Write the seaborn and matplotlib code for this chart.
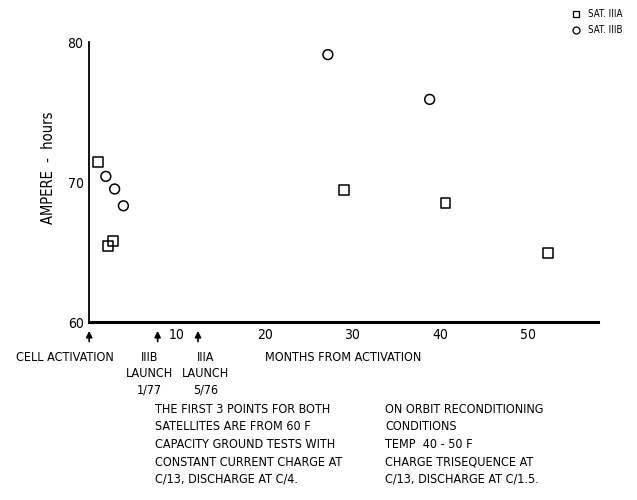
import pandas as pd
import matplotlib
matplotlib.use('Agg')
import matplotlib.pyplot as plt
import seaborn as sns

# satellite IIIA (squares) and IIIB (circles), months from cell activation
months_a = [1.0, 2.1, 2.7, 29.0, 40.6, 52.3]
amphr_a = [71.4, 65.4, 65.8, 69.4, 68.5, 64.9]
months_b = [1.9, 2.9, 3.9, 27.2, 38.8]
amphr_b = [70.4, 69.5, 68.3, 79.1, 75.9]
series = ['SAT. IIIA', 'SAT. IIIB']

xticks = [10, 20, 30, 40, 50]
yticks = [60, 70, 80]
events = [0.0, 7.8, 12.4]
event_labels = ['CELL ACTIVATION', 'IIIB\nLAUNCH\n1/77', 'IIIA\nLAUNCH\n5/76']

left_note = ['THE FIRST 3 POINTS FOR BOTH',
             'SATELLITES ARE FROM 60 F',
             'CAPACITY GROUND TESTS WITH',
             'CONSTANT CURRENT CHARGE AT',
             'C/13, DISCHARGE AT C/4.']
right_note = ['ON ORBIT RECONDITIONING',
              'CONDITIONS',
              'TEMP  40 - 50 F',
              'CHARGE TRISEQUENCE AT',
              'C/13, DISCHARGE AT C/1.5.']

df = pd.concat([
    pd.DataFrame({'month': months_a, 'ah': amphr_a, 'sat': series[0]}),
    pd.DataFrame({'month': months_b, 'ah': amphr_b, 'sat': series[1]}),
])

sns.set_style('white')
plt.rcParams['font.family'] = ['DejaVu Sans']
plt.rcParams['font.stretch'] = 'condensed'
plt.rcParams['text.color'] = 'black'
plt.rcParams['xtick.color'] = 'black'
plt.rcParams['ytick.color'] = 'black'
plt.rcParams['axes.labelcolor'] = 'black'

fig = plt.figure(figsize=(6.37, 5.0), dpi=100)
ax = fig.add_axes([0.14, 0.356, 0.799, 0.56])

sns.scatterplot(data=df, x='month', y='ah', style='sat',
                markers={series[0]: 's', series[1]: 'o'},
                facecolor='none', edgecolor='black', linewidth=1.1,
                s=50, ax=ax, legend=False)

ax.set_xlim(0, 58)
ax.set_ylim(60, 80)
ax.set_xticks(xticks)
ax.set_yticks(yticks)
ax.tick_params(length=0, labelsize=10, pad=4)
ax.set_xticklabels([str(t) for t in xticks])
ax.set_xlabel('')
ax.set_ylabel('AMPERE  -  hours', fontsize=10.5)
ax.yaxis.set_label_coords(-0.065, 0.55)
for side in ['top', 'right']:
    ax.spines[side].set_visible(False)
ax.spines['left'].set_linewidth(1.3)
ax.spines['bottom'].set_linewidth(2.2)
for sp in ax.spines.values():
    sp.set_color('black')

# event arrows under the axis
trans = ax.get_xaxis_transform()
label_x = [-2.8, 6.9, 13.3]
for ev, lx, lab in zip(events, label_x, event_labels):
    ax.annotate('', xy=(ev, -0.022), xytext=(ev, -0.08), xycoords=trans,
                textcoords=trans,
                arrowprops=dict(arrowstyle='-|>', color='black', lw=1.2,
                                mutation_scale=9))
    ax.text(lx, -0.105, lab, transform=trans, ha='center', va='top',
            fontsize=9, linespacing=1.3)

ax.text(20.0, -0.105, 'MONTHS FROM ACTIVATION', transform=trans, ha='left',
        va='top', fontsize=9)

fig.text(155 / 637, 1 - 403 / 500, '\n'.join(left_note), ha='left', va='top',
         fontsize=9, linespacing=1.45)
fig.text(385 / 637, 1 - 403 / 500, '\n'.join(right_note), ha='left', va='top',
         fontsize=9, linespacing=1.45)

# legend in the top right corner
fig.text(588 / 637, 1 - 14 / 500, series[0], ha='left', va='center', fontsize=7)
fig.text(588 / 637, 1 - 30 / 500, series[1], ha='left', va='center', fontsize=7)
fig.lines.append(plt.Line2D([576 / 637], [1 - 14 / 500], marker='s', ms=5,
                            mfc='none', mec='black', mew=0.9,
                            transform=fig.transFigure))
fig.lines.append(plt.Line2D([576 / 637], [1 - 30 / 500], marker='o', ms=5,
                            mfc='none', mec='black', mew=0.9,
                            transform=fig.transFigure))

fig.savefig('out.png', dpi=100)
